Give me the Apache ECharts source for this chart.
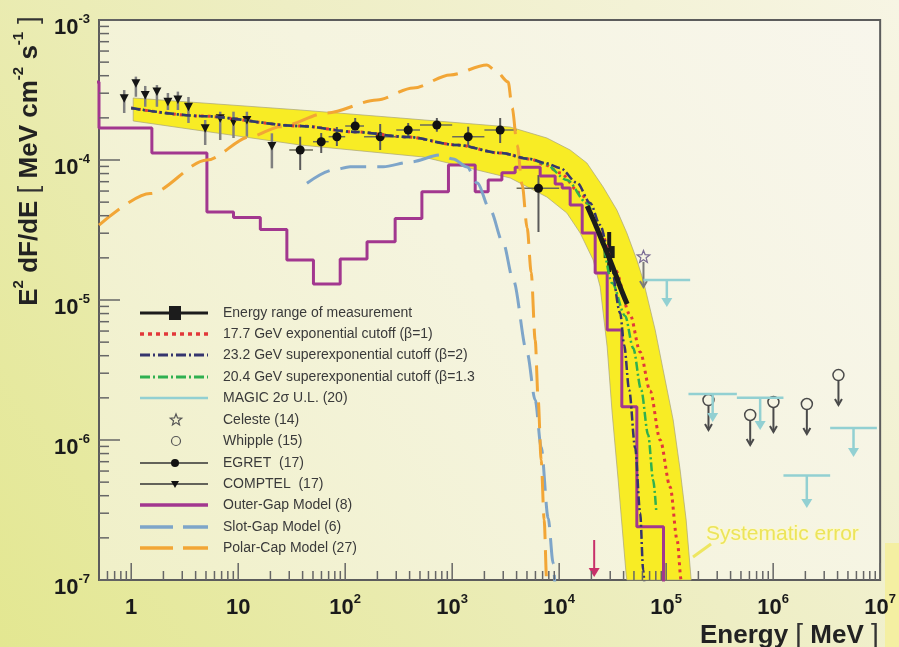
<!DOCTYPE html>
<html>
<head>
<meta charset="utf-8">
<script src="https://cdn.jsdelivr.net/npm/echarts@6/dist/echarts.min.js"></script>
<style>
  html, body { margin: 0; padding: 0; background: #eeedc0; }
  #chart { width: 899px; height: 647px; }
</style>
</head>
<body>
<div id="chart"></div>
<script>
// ---------- axes ----------
const xRange = [0.5, 1e7];      // Energy [MeV]
const yRange = [1e-7, 1e-3];    // E^2 dF/dE [MeV cm^-2 s^-1]
const xDecades = [-1, 0, 1, 2, 3, 4, 5, 6, 7];
const yDecades = [-7, -6, -5, -4, -3];
const minorSteps = [2, 3, 4, 5, 6, 7, 8, 9];

// ---------- systematic error band (upper / lower edge) ----------
const bandUpperE = [1.044, 37.97, 326.6, 3485, 7674, 12670, 18150, 25780, 34620, 42930, 53220, 60950, 78930, 97880, 116300, 135100, 153800, 171300];
const bandUpperV = [2.773e-4, 2.276e-4, 1.995e-4, 1.72e-4, 1.436e-4, 1.179e-4, 9.52e-5, 6.41e-5, 4.39e-5, 3.01e-5, 1.93e-5, 1.39e-5, 6.11e-6, 2.68e-6, 1.39e-6, 6.11e-7, 2.68e-7, 1e-7];
const bandLowerE = [1.044, 37.97, 535.8, 3485, 7674, 11800, 15710, 20790, 24160, 28090, 31280, 35590, 42290, 42930];
const bandLowerV = [1.90e-4, 1.28e-4, 1.051e-4, 7.44e-5, 5.44e-5, 4.18e-5, 3.01e-5, 1.93e-5, 1.239e-5, 4.62e-6, 1.56e-6, 5.18e-7, 1.086e-7, 1e-7];

// ---------- models ----------
const outerGapEdges = [0.3, 0.5, 1.56, 5.10, 9.04, 16.1, 28.5, 50.5, 89.8, 160, 293, 521, 923, 1641, 2170, 2914, 3880, 6645, 9175, 10670, 12670, 16410, 21700, 28100, 38500, 53200, 94400, 200000];
const outerGapLevels = [3.61e-4, 1.693e-4, 1.122e-4, 4.25e-5, 3.88e-5, 3.19e-5, 1.93e-5, 1.30e-5, 1.963e-5, 2.61e-5, 3.82e-5, 5.94e-5, 9.21e-5, 5.94e-5, 7.20e-5, 8.11e-5, 8.87e-5, 7.68e-5, 6.74e-5, 6.31e-5, 4.77e-5, 3.01e-5, 1.56e-5, 6.11e-6, 1.73e-6, 2.40e-7, 1e-9];

const slotGapE = [43.9, 77.3, 111.4, 226.5, 405, 772, 1022, 1381, 1712, 2265, 2997, 3717, 5022, 5968, 6788, 7893, 8788, 9175];
const slotGapV = [6.82e-5, 8.48e-5, 8.96e-5, 8.96e-5, 9.67e-5, 1.086e-4, 1.017e-4, 8.91e-5, 6.85e-5, 4.39e-5, 2.55e-5, 1.39e-5, 4.18e-6, 1.93e-6, 8.91e-7, 2.77e-7, 1.32e-7, 8.5e-8];

const polarCapE = [0.5, 1.505, 5.10, 12.95, 24.7, 67.4, 197.8, 432, 958, 2110, 2523, 3337, 3637, 4051, 4510, 5022, 5474, 5968, 6365, 6788, 7240, 7640, 7893];
const polarCapV = [3.43e-5, 5.76e-5, 1.0e-4, 1.467e-4, 1.729e-4, 2.166e-4, 2.683e-4, 3.27e-4, 4.05e-4, 4.77e-4, 4.39e-4, 3.61e-4, 2.35e-4, 1.28e-4, 6.63e-5, 3.27e-5, 1.585e-5, 5.18e-6, 1.93e-6, 7.20e-7, 2.68e-7, 1e-7, 5.2e-8];

// ---------- fitted spectra (shared power-law part + cutoff tails) ----------
const fitBaseE = [1, 4.415, 37.97, 126.7, 379.7, 1113, 2809, 5358];
const fitBaseV = [2.35e-4, 2.062e-4, 1.749e-4, 1.585e-4, 1.46e-4, 1.28e-4, 1.122e-4, 1.017e-4];
const expTailE = [7399, 10220, 15710, 24160, 33380, 46090, 57150, 70870, 87880, 109000, 126700, 138100, 144200];
const expTailV = [9.21e-5, 8.08e-5, 5.81e-5, 3.16e-5, 1.638e-5, 7.81e-6, 4.25e-6, 2.24e-6, 1.0e-6, 4.62e-7, 1.93e-7, 1.0e-7, 7.2e-8];
const supExp2TailE = [7399, 10220, 14730, 19490, 24160, 29970, 37170, 40510, 45110, 51320, 57150, 60950, 63640];
const supExp2TailV = [9.52e-5, 8.77e-5, 6.85e-5, 4.93e-5, 3.43e-5, 1.93e-5, 8.08e-6, 4.77e-6, 2.28e-6, 8.77e-7, 3.01e-7, 1.18e-7, 7.2e-8];
const supExp13TailE = [7399, 11800, 18150, 24160, 31280, 41390, 49160, 58400, 67890, 75580, 80630];
const supExp13TailV = [9.36e-5, 7.2e-5, 4.93e-5, 2.91e-5, 1.32e-5, 7.69e-6, 4.54e-6, 2.28e-6, 1.086e-6, 5.18e-7, 3.16e-7];

// ---------- MAGIC measurement ----------
const magicRangeE = [18270, 21700, 25230, 29330, 34100, 38800, 43200];
const magicRangeV = [4.69e-5, 3.49e-5, 2.64e-5, 2.0e-5, 1.484e-5, 1.141e-5, 9.36e-6];
const magicPoint = [29330, 2.2e-5, 3.06e-5, 1.585e-5];   // E, flux, upper, lower

// ---------- COMPTEL ----------
const comptelE  = [0.86, 1.106, 1.352, 1.739, 2.203, 2.732, 3.43, 4.915, 6.79, 9.04, 12.06, 20.65];
const comptelV  = [2.76e-4, 3.53e-4, 2.91e-4, 3.08e-4, 2.61e-4, 2.71e-4, 2.40e-4, 1.684e-4, 1.986e-4, 1.877e-4, 1.931e-4, 1.259e-4];
const comptelHi = [3.16e-4, 3.94e-4, 3.38e-4, 3.43e-4, 3.01e-4, 3.08e-4, 2.82e-4, 1.931e-4, 2.213e-4, 2.213e-4, 2.213e-4, 1.551e-4];
const comptelLo = [2.166e-4, 2.83e-4, 2.40e-4, 2.40e-4, 2.276e-4, 2.276e-4, 1.837e-4, 1.28e-4, 1.39e-4, 1.436e-4, 1.467e-4, 8.72e-5];

// ---------- EGRET ----------
const egretBinLo = [30, 50, 70, 100, 150, 300, 500, 1000, 2000, 4000];
const egretBinHi = [50, 70, 100, 150, 300, 500, 1000, 2000, 4000, 10000];
const egretE  = [37.97, 59.7, 83.6, 124, 212.4, 388, 719, 1411, 2809, 6405];
const egretV  = [1.179e-4, 1.351e-4, 1.467e-4, 1.749e-4, 1.467e-4, 1.638e-4, 1.778e-4, 1.467e-4, 1.638e-4, 6.28e-5];
const egretHi = [1.467e-4, 1.559e-4, 1.72e-4, 1.995e-4, 1.807e-4, 1.837e-4, 1.995e-4, 1.729e-4, 1.995e-4, 7.81e-5];
const egretLo = [8.48e-5, 1.122e-4, 1.259e-4, 1.559e-4, 1.179e-4, 1.46e-4, 1.592e-4, 1.238e-4, 1.322e-4, 3.06e-5];

// ---------- upper limits ----------
const celesteE = [61370], celesteV = [2.03e-5], celesteEnd = [1.239e-5];
const whippleE = [2.486e5, 6.10e5, 1.006e6, 2.065e6, 4.076e6];
const whippleV = [1.93e-6, 1.509e-6, 1.868e-6, 1.807e-6, 2.91e-6];
const whippleEnd = [1.179e-6, 9.21e-7, 1.14e-6, 1.104e-6, 1.778e-6];
const magicUlLo = [61370, 1.616e5, 4.58e5, 3.41e6, 1.248e6];
const magicUlHi = [1.676e5, 4.58e5, 1.248e6, 9.32e6, 3.41e6];
const magicUlV  = [1.39e-5, 2.13e-6, 2.0e-6, 1.218e-6, 5.58e-7];
const magicUlEnd = [8.91e-6, 1.345e-6, 1.179e-6, 7.56e-7, 3.27e-7];
const thresholdArrow = [21240, 1.93e-7, 1.05e-7];   // E, arrow top, arrow tip

// ---------- legend ----------
const legendLabels = [
  'Energy range of measurement',
  '17.7 GeV exponential cutoff (\u03b2=1)',
  '23.2 GeV superexponential cutoff (\u03b2=2)',
  '20.4 GeV superexponential cutoff (\u03b2=1.3',
  'MAGIC 2\u03c3 U.L. (20)',
  'Celeste (14)',
  'Whipple (15)',
  'EGRET  (17)',
  'COMPTEL  (17)',
  'Outer-Gap Model (8)',
  'Slot-Gap Model (6)',
  'Polar-Cap Model (27)'
];

const FONT = '"Liberation Sans", Arial, Helvetica, sans-serif';
const C = {
  red: '#e2383a', dark: '#35356e', green: '#2fb050', cyan: '#92d0d2',
  purple: '#a2378f', slot: '#7ea5c9', polar: '#f2a636', band: '#f8ec25',
  ink: '#1c1c1c', bar: '#707070', tick: '#666666'
};

const zip = (a, b) => a.map((v, i) => [v, b[i]]);

// step line for the outer-gap histogram
const outerGapData = [];
outerGapLevels.forEach((lv, i) => {
  outerGapData.push([outerGapEdges[i], lv]);
  outerGapData.push([outerGapEdges[i + 1], lv]);
});

// tick marks: [x, y, 0 = x-axis / 1 = y-axis, length]
const tickData = [];
xDecades.forEach(d => {
  const base = Math.pow(10, d);
  if (base >= xRange[0] && base <= xRange[1]) tickData.push([base, yRange[0], 0, 17]);
  minorSteps.forEach(m => {
    const v = m * base;
    if (v > xRange[0] && v < xRange[1]) tickData.push([v, yRange[0], 0, 9]);
  });
});
yDecades.forEach(d => {
  const base = Math.pow(10, d);
  tickData.push([xRange[0], base, 1, 21]);
  if (d < -3) minorSteps.forEach(m => tickData.push([xRange[0], m * base, 1, 10]));
});

function powLabel(v) {
  const lg = Math.log10(v);
  const n = Math.round(lg);
  if (Math.abs(lg - n) > 1e-6) return '';
  if (n === 0) return '{b|1}';
  if (n === 1) return '{b|10}';
  return '{b|10}{s|' + n + '}';
}
const labelRich = {
  b: { fontFamily: FONT, fontSize: 22, fontWeight: 'bold', color: '#1a1a1a', lineHeight: 26, verticalAlign: 'bottom' },
  s: { fontFamily: FONT, fontSize: 13, fontWeight: 'bold', color: '#1a1a1a', lineHeight: 14, verticalAlign: 'top' }
};

// ---------- render helpers ----------
function arrowDown(x, y1, y2, color, width, filled) {
  const h = filled ? 9 : 6, w = filled ? 5.5 : 3.5;
  const out = [{ type: 'line', shape: { x1: x, y1: y1, x2: x, y2: filled ? y2 - h + 1 : y2 }, style: { stroke: color, lineWidth: width } }];
  if (filled) out.push({ type: 'polygon', shape: { points: [[x - w, y2 - h], [x + w, y2 - h], [x, y2]] }, style: { fill: color } });
  else out.push({ type: 'polyline', shape: { points: [[x - w, y2 - h], [x, y2], [x + w, y2 - h]] }, style: { stroke: color, lineWidth: width, fill: null } });
  return out;
}
function starPoints(cx, cy, ro, ri) {
  const pts = [];
  for (let k = 0; k < 10; k++) {
    const r = k % 2 === 0 ? ro : ri;
    const a = -Math.PI / 2 + k * Math.PI / 5;
    pts.push([cx + r * Math.cos(a), cy + r * Math.sin(a)]);
  }
  return pts;
}

function renderBand(params, api) {
  const pts = [];
  bandUpperE.forEach((e, i) => pts.push(api.coord([e, bandUpperV[i]])));
  for (let i = bandLowerE.length - 1; i >= 0; i--) pts.push(api.coord([bandLowerE[i], bandLowerV[i]]));
  return { type: 'polygon', shape: { points: pts }, style: { fill: C.band, stroke: '#a8a47a', lineWidth: 0.7 } };
}
function renderTicks(params, api) {
  const p = api.coord([api.value(0), api.value(1)]);
  const len = api.value(3);
  const shape = api.value(2) === 0
    ? { x1: p[0], y1: p[1], x2: p[0], y2: p[1] - len }
    : { x1: p[0], y1: p[1], x2: p[0] + len, y2: p[1] };
  return { type: 'line', shape: shape, style: { stroke: C.tick, lineWidth: 1.5 } };
}
function renderMagicPoint(params, api) {
  const c = api.coord([api.value(0), api.value(1)]);
  const t = api.coord([api.value(0), api.value(2)]);
  const b = api.coord([api.value(0), api.value(3)]);
  return { type: 'group', children: [
    { type: 'line', shape: { x1: c[0], y1: t[1], x2: c[0], y2: b[1] }, style: { stroke: C.ink, lineWidth: 4 } },
    { type: 'rect', shape: { x: c[0] - 5.5, y: c[1] - 6, width: 11, height: 12 }, style: { fill: C.ink } }
  ] };
}
function renderComptel(params, api) {
  const c = api.coord([api.value(0), api.value(1)]);
  const t = api.coord([api.value(0), api.value(2)]);
  const b = api.coord([api.value(0), api.value(3)]);
  return { type: 'group', children: [
    { type: 'line', shape: { x1: c[0], y1: t[1], x2: c[0], y2: b[1] }, style: { stroke: '#808080', lineWidth: 2.5 } },
    { type: 'polygon', shape: { points: [[c[0] - 4.5, c[1] - 4], [c[0] + 4.5, c[1] - 4], [c[0], c[1] + 4.5]] }, style: { fill: '#151515' } }
  ] };
}
function renderEgret(params, api) {
  const c = api.coord([api.value(0), api.value(1)]);
  const t = api.coord([api.value(0), api.value(2)]);
  const b = api.coord([api.value(0), api.value(3)]);
  const l = api.coord([api.value(4), api.value(1)]);
  const r = api.coord([api.value(5), api.value(1)]);
  return { type: 'group', children: [
    { type: 'line', shape: { x1: l[0], y1: c[1], x2: r[0], y2: c[1] }, style: { stroke: '#6c6c58', lineWidth: 1.5 } },
    { type: 'line', shape: { x1: c[0], y1: t[1], x2: c[0], y2: b[1] }, style: { stroke: '#5a5a5a', lineWidth: 2 } },
    { type: 'circle', shape: { cx: c[0], cy: c[1], r: 4.5 }, style: { fill: '#111' } }
  ] };
}
function renderCeleste(params, api) {
  const c = api.coord([api.value(0), api.value(1)]);
  const e = api.coord([api.value(0), api.value(2)]);
  return { type: 'group', children: [
    { type: 'polygon', shape: { points: starPoints(c[0], c[1], 6.5, 2.8) }, style: { fill: 'none', stroke: '#7a6c94', lineWidth: 1.3 } }
  ].concat(arrowDown(c[0], c[1] + 5, e[1], '#7b7b7b', 2, false)) };
}
function renderWhipple(params, api) {
  const c = api.coord([api.value(0), api.value(1)]);
  const e = api.coord([api.value(0), api.value(2)]);
  return { type: 'group', children: [
    { type: 'circle', shape: { cx: c[0], cy: c[1], r: 5.5 }, style: { fill: 'none', stroke: '#4a4a4a', lineWidth: 1.5 } }
  ].concat(arrowDown(c[0], c[1] + 5.5, e[1], '#4a4a4a', 2, false)) };
}
function renderMagicUl(params, api) {
  const l = api.coord([api.value(0), api.value(1)]);
  const r = api.coord([api.value(2), api.value(1)]);
  const e = api.coord([api.value(2), api.value(3)]);
  const xm = (l[0] + r[0]) / 2;
  return { type: 'group', children: [
    { type: 'line', shape: { x1: l[0], y1: l[1], x2: r[0], y2: l[1] }, style: { stroke: C.cyan, lineWidth: 2.5 } }
  ].concat(arrowDown(xm, l[1], e[1], C.cyan, 2.5, true)) };
}
function renderThreshold(params, api) {
  const t = api.coord([api.value(0), api.value(1)]);
  const e = api.coord([api.value(0), api.value(2)]);
  return { type: 'group', children: arrowDown(t[0], t[1], e[1], '#c8306a', 2, true) };
}

// ---------- legend drawing ----------
const legendRowY = [313, 334, 355, 377, 398, 420, 441, 463, 484, 505, 527, 548];
const LX0 = 140, LX1 = 208, LXM = 175, LTX = 223;
function legLine(y, color, width, dash) {
  return { type: 'line', shape: { x1: LX0, y1: y, x2: LX1, y2: y }, style: { stroke: color, lineWidth: width, lineDash: dash || null } };
}
const legendSymbols = [
  y => [legLine(y, C.ink, 3), { type: 'rect', shape: { x: LXM - 6, y: y - 7, width: 12, height: 14 }, style: { fill: C.ink } }],
  y => [legLine(y, C.red, 3.5, [4, 4])],
  y => [legLine(y, C.dark, 3, [10, 3, 2, 3])],
  y => [legLine(y, C.green, 3, [10, 3, 2, 3])],
  y => [legLine(y, C.cyan, 2.5)],
  y => [{ type: 'polygon', shape: { points: starPoints(LXM + 1, y, 6, 2.6) }, style: { fill: 'none', stroke: '#555', lineWidth: 1.2 } }],
  y => [{ type: 'circle', shape: { cx: LXM + 1, cy: y, r: 4.5 }, style: { fill: 'none', stroke: '#555', lineWidth: 1.2 } }],
  y => [legLine(y, '#333', 1.5), { type: 'circle', shape: { cx: LXM, cy: y, r: 4 }, style: { fill: '#111' } }],
  y => [legLine(y, '#333', 1.5), { type: 'polygon', shape: { points: [[LXM - 4, y - 3], [LXM + 4, y - 3], [LXM, y + 4]] }, style: { fill: '#111' } }],
  y => [legLine(y, C.purple, 3.5)],
  y => [legLine(y, C.slot, 3.5, [33, 10])],
  y => [legLine(y, C.polar, 3.5, [33, 10])]
];
const legendGraphics = [];
legendLabels.forEach((txt, i) => {
  const y = legendRowY[i];
  legendSymbols[i](y).forEach(el => legendGraphics.push(Object.assign({ silent: true, z: 10 }, el)));
  legendGraphics.push({ type: 'text', x: LTX, y: y, z: 10, silent: true,
    style: { text: txt, fontFamily: FONT, fontSize: 14, fill: '#3a3a3a', align: 'left', verticalAlign: 'middle' } });
});

const titleRich = {
  b: { fontFamily: FONT, fontSize: 26, fontWeight: 'bold', fill: '#222', lineHeight: 32, verticalAlign: 'bottom' },
  t: { fontFamily: FONT, fontSize: 28, fontWeight: 'normal', fill: '#333', lineHeight: 32, verticalAlign: 'bottom' },
  s: { fontFamily: FONT, fontSize: 15, fontWeight: 'bold', fill: '#222', lineHeight: 15, verticalAlign: 'top' }
};

const chart = echarts.init(document.getElementById('chart'));
chart.setOption({
  animation: false,
  backgroundColor: new echarts.graphic.LinearGradient(0, 1, 1, 0, [
    { offset: 0, color: '#e3e791' }, { offset: 0.55, color: '#eeeec4' }, { offset: 1, color: '#f7f5e4' }
  ]),
  grid: {
    left: 99, right: 18, top: 20, bottom: 67, show: true,
    borderColor: '#5c5c5c', borderWidth: 2,
    backgroundColor: new echarts.graphic.LinearGradient(0, 1, 1, 0, [
      { offset: 0, color: '#f0f0c8' }, { offset: 0.5, color: '#f5f4df' }, { offset: 1, color: '#f8f6ec' }
    ])
  },
  xAxis: {
    type: 'log', logBase: 10, min: xRange[0], max: xRange[1],
    axisLine: { show: false }, axisTick: { show: false }, splitLine: { show: false },
    axisLabel: { margin: 13, formatter: powLabel, rich: labelRich, showMinLabel: true, showMaxLabel: true }
  },
  yAxis: {
    type: 'log', logBase: 10, min: yRange[0], max: yRange[1],
    axisLine: { show: false }, axisTick: { show: false }, splitLine: { show: false },
    axisLabel: { margin: 9, padding: [12, 0, 0, 0], formatter: powLabel, rich: labelRich, showMinLabel: true, showMaxLabel: true }
  },
  graphic: [
    { type: 'rect', shape: { x: 885, y: 543, width: 14, height: 104 }, style: { fill: '#f4efa2' }, z: -1, silent: true },
    { type: 'text', x: 27, y: 161, rotation: Math.PI / 2, silent: true,
      style: { text: '{b|E}{s|2}{b| dF/dE }{t|[}{b| MeV cm}{s|-2}{b| s}{s|-1}{t| ]}', rich: titleRich, align: 'center', verticalAlign: 'middle' } },
    { type: 'text', x: 700, y: 633, silent: true,
      style: { text: '{b|Energy }{t|[}{b| MeV }{t|]}', rich: titleRich, align: 'left', verticalAlign: 'middle' } },
    { type: 'line', shape: { x1: 693, y1: 557, x2: 711, y2: 544 }, style: { stroke: '#eee660', lineWidth: 3 }, silent: true },
    { type: 'text', x: 706, y: 534, silent: true,
      style: { text: 'Systematic error', fontFamily: FONT, fontSize: 21, fill: '#ece45a', stroke: '#fbf8cf', lineWidth: 2, align: 'left', verticalAlign: 'middle' } }
  ].concat(legendGraphics),
  series: [
    { type: 'custom', name: 'band', renderItem: renderBand, data: [[1, 1e-4]], silent: true, z: 1 },
    { type: 'line', name: 'Outer-Gap Model (8)', data: outerGapData, symbol: 'none', silent: true,
      lineStyle: { color: C.purple, width: 3 } },
    { type: 'line', name: 'Slot-Gap Model (6)', data: zip(slotGapE, slotGapV), symbol: 'none', silent: true,
      smooth: 0.3, smoothMonotone: 'x', lineStyle: { color: C.slot, width: 3, type: [26, 11] } },
    { type: 'line', name: 'Polar-Cap Model (27)', data: zip(polarCapE, polarCapV), symbol: 'none', silent: true,
      smooth: 0.3, smoothMonotone: 'x', lineStyle: { color: C.polar, width: 3, type: [26, 11] } },
    { type: 'line', name: '17.7 GeV', data: zip(fitBaseE.concat(expTailE), fitBaseV.concat(expTailV)), symbol: 'none', silent: true,
      smooth: 0.3, smoothMonotone: 'x', lineStyle: { color: C.red, width: 3, type: [3, 4] } },
    { type: 'line', name: '20.4 GeV', data: zip(fitBaseE.concat(supExp13TailE), fitBaseV.concat(supExp13TailV)), symbol: 'none', silent: true,
      smooth: 0.3, smoothMonotone: 'x', lineStyle: { color: C.green, width: 2.5, type: [9, 3, 2, 3] } },
    { type: 'line', name: '23.2 GeV', data: zip(fitBaseE.concat(supExp2TailE), fitBaseV.concat(supExp2TailV)), symbol: 'none', silent: true,
      smooth: 0.3, smoothMonotone: 'x', lineStyle: { color: C.dark, width: 2.5, type: [9, 3, 2, 3] } },
    { type: 'line', name: 'Energy range of measurement', data: zip(magicRangeE, magicRangeV), symbol: 'none', silent: true,
      smooth: 0.3, lineStyle: { color: C.ink, width: 5 } },
    { type: 'custom', renderItem: renderMagicPoint, data: [magicPoint], silent: true },
    { type: 'custom', renderItem: renderComptel, silent: true,
      data: comptelE.map((e, i) => [e, comptelV[i], comptelHi[i], comptelLo[i]]) },
    { type: 'custom', renderItem: renderEgret, silent: true,
      data: egretE.map((e, i) => [e, egretV[i], egretHi[i], egretLo[i], egretBinLo[i], egretBinHi[i]]) },
    { type: 'custom', renderItem: renderCeleste, silent: true,
      data: celesteE.map((e, i) => [e, celesteV[i], celesteEnd[i]]) },
    { type: 'custom', renderItem: renderWhipple, silent: true,
      data: whippleE.map((e, i) => [e, whippleV[i], whippleEnd[i]]) },
    { type: 'custom', renderItem: renderMagicUl, silent: true,
      data: magicUlLo.map((e, i) => [e, magicUlV[i], magicUlHi[i], magicUlEnd[i]]) },
    { type: 'custom', renderItem: renderThreshold, silent: true, data: [thresholdArrow] },
    { type: 'custom', renderItem: renderTicks, silent: true, data: tickData, z: 5 }
  ]
});
</script>
</body>
</html>
